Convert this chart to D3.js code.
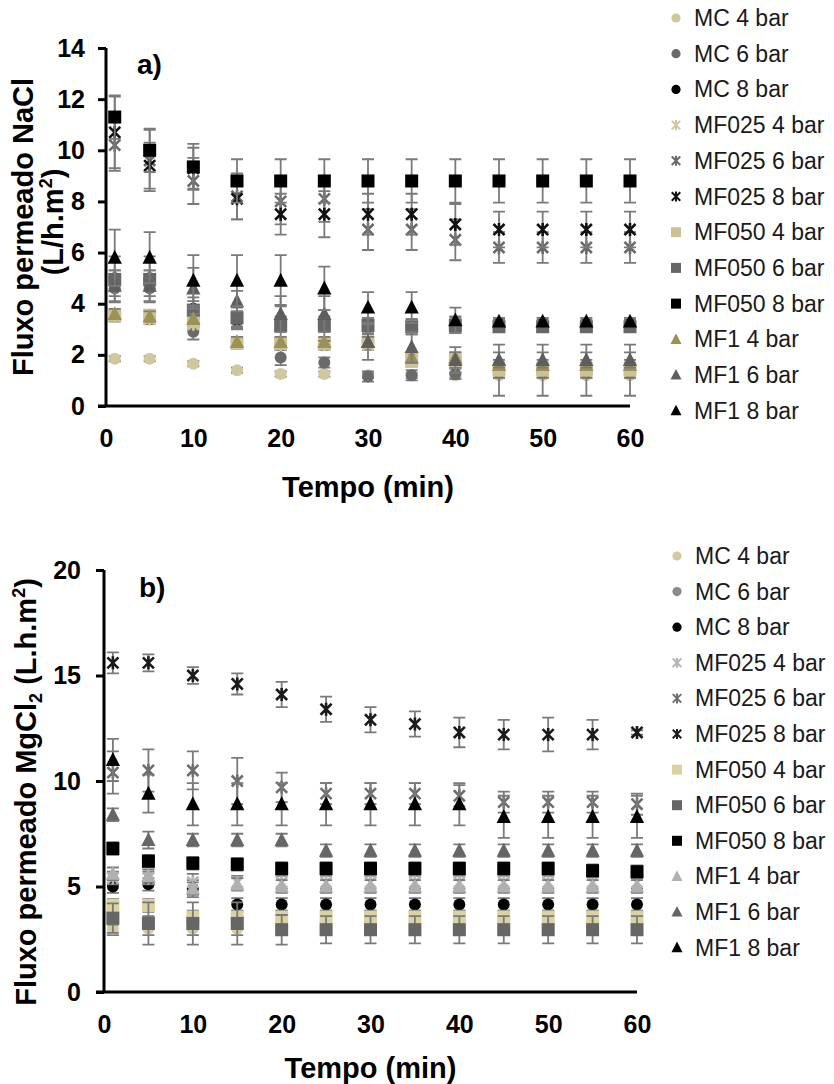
<!DOCTYPE html>
<html>
<head>
<meta charset="utf-8">
<script src="https://cdn.jsdelivr.net/npm/d3@7/dist/d3.min.js"></script>
<style>
  html, body { margin: 0; padding: 0; background: #fff; }
  svg { display: block; }
  text { font-family: "Liberation Sans", Arial, sans-serif; }
</style>
</head>
<body>
<svg id="fig" width="834" height="1084"></svg>
<script>
// Sampling times (min)
const times = [1, 5, 10, 15, 20, 25, 30, 35, 40, 45, 50, 55, 60];
const seriesLabels = ["MC 4 bar", "MC 6 bar", "MC 8 bar",
  "MF025 4 bar", "MF025 6 bar", "MF025 8 bar",
  "MF050 4 bar", "MF050 6 bar", "MF050 8 bar",
  "MF1 4 bar", "MF1 6 bar", "MF1 8 bar"];
const xTicks = [0, 10, 20, 30, 40, 50, 60];
const naclYTicks = [0, 2, 4, 6, 8, 10, 12, 14];
const mgclYTicks = [0, 5, 10, 15, 20];

// a) NaCl permeate flux (L/h.m2) and standard deviations
const naclMC4    = [1.85, 1.85, 1.65, 1.4, 1.25, 1.25, 1.2, 1.2, 1.2, 1.2, 1.2, 1.2, 1.2];
const naclMC6    = [4.6, 4.6, 2.9, 3.3, 1.9, 1.7, 1.15, 1.2, 1.25, 1.3, 1.3, 1.3, 1.3];
const naclMC8    = [5.0, 5.0, 3.8, 3.4, 3.2, 3.2, 3.1, 3.1, 3.2, 3.2, 3.2, 3.2, 3.2];
const naclMF025_4 = [3.5, 3.4, 3.2, 2.5, 2.4, 2.4, 2.4, 1.8, 1.7, 1.5, 1.5, 1.5, 1.5];
const naclMF025_6 = [10.2, 9.6, 8.8, 8.2, 8.0, 8.1, 6.9, 6.9, 6.5, 6.2, 6.2, 6.2, 6.2];
const naclMF025_8 = [10.7, 9.4, 9.3, 8.1, 7.5, 7.5, 7.5, 7.5, 7.1, 6.9, 6.9, 6.9, 6.9];
const naclMF050_4 = [3.55, 3.55, 3.3, 2.45, 2.45, 2.45, 2.5, 1.75, 1.8, 1.4, 1.4, 1.4, 1.4];
const naclMF050_6 = [4.95, 4.95, 3.75, 3.45, 3.15, 3.15, 3.15, 3.1, 3.15, 3.1, 3.1, 3.1, 3.1];
const naclMF050_8 = [11.3, 10.0, 9.35, 8.8, 8.8, 8.8, 8.8, 8.8, 8.8, 8.8, 8.8, 8.8, 8.8];
const naclMF1_4  = [3.6, 3.5, 3.4, 2.5, 2.5, 2.5, 2.5, 1.9, 1.9, 1.6, 1.6, 1.6, 1.6];
const naclMF1_6  = [4.7, 4.7, 4.6, 4.1, 3.6, 3.6, 2.5, 2.3, 1.8, 1.8, 1.8, 1.8, 1.8];
const naclMF1_8  = [5.8, 5.8, 4.9, 4.9, 4.9, 4.6, 3.85, 3.85, 3.35, 3.3, 3.3, 3.3, 3.3];

const naclErrMC4    = [0.1, 0.1, 0.1, 0.1, 0.1, 0.1, 0.1, 0.1, 0.1, 0.1, 0.1, 0.1, 0.1];
const naclErrMC6    = [0.3, 0.3, 0.3, 0.3, 0.3, 0.2, 0.2, 0.2, 0.2, 0.2, 0.2, 0.2, 0.2];
const naclErrMC8    = [0.3, 0.3, 0.3, 0.3, 0.3, 0.3, 0.3, 0.3, 0.3, 0.2, 0.2, 0.2, 0.2];
const naclErrMF025_4 = [0.2, 0.2, 0.2, 0.2, 0.2, 0.2, 0.2, 0.2, 0.2, 0.2, 0.2, 0.2, 0.2];
const naclErrMF025_6 = [1.0, 1.2, 0.9, 0.9, 0.9, 0.9, 0.8, 0.8, 0.8, 0.6, 0.6, 0.6, 0.6];
const naclErrMF025_8 = [1.4, 0.9, 0.8, 0.8, 0.8, 0.9, 0.8, 0.8, 0.8, 0.7, 0.7, 0.7, 0.7];
const naclErrMF050_4 = [0.2, 0.2, 0.2, 0.2, 0.2, 0.2, 0.2, 0.2, 0.3, 1.0, 1.0, 1.0, 1.0];
const naclErrMF050_6 = [0.9, 0.9, 0.5, 0.4, 0.8, 0.6, 0.3, 0.3, 0.3, 0.2, 0.2, 0.2, 0.2];
const naclErrMF050_8 = [0.85, 0.85, 0.9, 0.85, 0.85, 0.85, 0.85, 0.85, 0.85, 0.85, 0.85, 0.85, 0.85];
const naclErrMF1_4  = [0.2, 0.2, 0.2, 0.2, 0.2, 0.2, 0.2, 0.2, 0.2, 0.2, 0.2, 0.2, 0.2];
const naclErrMF1_6  = [0.6, 0.6, 0.8, 0.4, 0.7, 0.7, 0.7, 0.6, 0.5, 0.3, 0.3, 0.3, 0.3];
const naclErrMF1_8  = [1.1, 1.0, 1.0, 1.0, 1.0, 0.85, 0.6, 0.6, 0.5, 0.15, 0.15, 0.15, 0.15];

// b) MgCl2 permeate flux (L.h.m2) and standard deviations
const mgclMC4    = [3.0, 3.0, 3.0, 3.0, 3.0, 3.0, 3.0, 3.0, 3.0, 3.0, 3.0, 3.0, 3.0];
const mgclMC6    = [3.5, 3.3, 3.3, 3.3, 3.1, 3.1, 3.1, 3.1, 3.1, 3.1, 3.1, 3.1, 3.1];
const mgclMC8    = [5.0, 5.1, 4.9, 4.15, 4.15, 4.15, 4.15, 4.15, 4.15, 4.15, 4.15, 4.15, 4.15];
const mgclMF025_4 = [5.4, 5.4, 5.2, 5.2, 5.2, 5.2, 5.2, 5.2, 5.2, 5.2, 5.2, 5.2, 5.2];
const mgclMF025_6 = [10.4, 10.5, 10.5, 10.0, 9.7, 9.4, 9.4, 9.4, 9.3, 9.0, 9.0, 9.0, 8.9];
const mgclMF025_8 = [15.6, 15.6, 15.0, 14.6, 14.1, 13.4, 12.9, 12.7, 12.3, 12.2, 12.2, 12.2, 12.3];
const mgclMF050_4 = [4.1, 4.1, 3.55, 3.55, 3.55, 3.55, 3.55, 3.55, 3.55, 3.55, 3.55, 3.55, 3.55];
const mgclMF050_6 = [3.5, 3.25, 3.25, 3.25, 2.95, 2.95, 2.95, 2.95, 2.95, 2.95, 2.95, 2.95, 2.95];
const mgclMF050_8 = [6.8, 6.2, 6.1, 6.05, 5.85, 5.85, 5.85, 5.85, 5.85, 5.85, 5.85, 5.75, 5.7];
const mgclMF1_4  = [5.6, 5.5, 4.9, 5.1, 5.0, 5.0, 5.0, 5.0, 5.0, 5.0, 5.0, 5.0, 5.0];
const mgclMF1_6  = [8.4, 7.2, 7.2, 7.2, 7.2, 6.7, 6.7, 6.7, 6.7, 6.7, 6.7, 6.7, 6.7];
const mgclMF1_8  = [11.0, 9.4, 8.9, 8.9, 8.9, 8.9, 8.9, 8.9, 8.9, 8.3, 8.3, 8.3, 8.3];

const mgclErrMC4    = [0.3, 0.3, 0.3, 0.3, 0.3, 0.3, 0.3, 0.3, 0.3, 0.3, 0.3, 0.3, 0.3];
const mgclErrMC6    = [0.3, 0.3, 0.3, 0.3, 0.3, 0.3, 0.3, 0.3, 0.3, 0.3, 0.3, 0.3, 0.3];
const mgclErrMC8    = [0.3, 0.3, 0.4, 0.3, 0.3, 0.3, 0.3, 0.3, 0.3, 0.3, 0.3, 0.3, 0.3];
const mgclErrMF025_4 = [0.3, 0.3, 0.4, 0.3, 0.3, 0.3, 0.3, 0.3, 0.3, 0.3, 0.3, 0.3, 0.3];
const mgclErrMF025_6 = [1.0, 1.0, 0.9, 1.1, 0.7, 0.5, 0.5, 0.5, 0.5, 0.5, 0.5, 0.5, 0.5];
const mgclErrMF025_8 = [0.5, 0.4, 0.4, 0.5, 0.6, 0.6, 0.6, 0.6, 0.7, 0.7, 0.8, 0.7, 0.1];
const mgclErrMF050_4 = [0.3, 0.3, 0.3, 0.3, 0.3, 0.3, 0.3, 0.3, 0.3, 0.3, 0.3, 0.3, 0.3];
const mgclErrMF050_6 = [0.7, 1.0, 1.0, 1.0, 0.7, 0.65, 0.65, 0.65, 0.65, 0.65, 0.65, 0.65, 0.65];
const mgclErrMF050_8 = [0.3, 0.3, 0.3, 0.3, 0.3, 0.3, 0.3, 0.3, 0.3, 0.3, 0.3, 0.3, 0.3];
const mgclErrMF1_4  = [0.3, 0.3, 0.3, 0.3, 0.3, 0.3, 0.3, 0.3, 0.3, 0.3, 0.3, 0.3, 0.3];
const mgclErrMF1_6  = [0.3, 0.4, 0.3, 0.3, 0.3, 0.3, 0.3, 0.3, 0.3, 0.3, 0.3, 0.3, 0.3];
const mgclErrMF1_8  = [1.0, 0.9, 1.0, 1.0, 1.0, 1.0, 1.0, 1.0, 1.0, 1.0, 1.0, 1.0, 1.0];

const markerShapes = ["circle", "circle", "circle", "star", "star", "star",
  "square", "square", "square", "triangle", "triangle", "triangle"];
const naclColors = ["#cfc79d", "#6a6a6a", "#000000", "#cfc79d", "#6a6a6a", "#111111",
  "#cbc295", "#666666", "#000000", "#9d9256", "#5e5e5e", "#000000"];
const mgclColors = ["#d3ca9f", "#8a8a8a", "#000000", "#b5b5b5", "#6e6e6e", "#1a1a1a",
  "#dbd2a2", "#666666", "#000000", "#b0b0b0", "#666666", "#000000"];

const naclValues = [naclMC4, naclMC6, naclMC8, naclMF025_4, naclMF025_6, naclMF025_8,
  naclMF050_4, naclMF050_6, naclMF050_8, naclMF1_4, naclMF1_6, naclMF1_8];
const naclErrors = [naclErrMC4, naclErrMC6, naclErrMC8, naclErrMF025_4, naclErrMF025_6, naclErrMF025_8,
  naclErrMF050_4, naclErrMF050_6, naclErrMF050_8, naclErrMF1_4, naclErrMF1_6, naclErrMF1_8];
const mgclValues = [mgclMC4, mgclMC6, mgclMC8, mgclMF025_4, mgclMF025_6, mgclMF025_8,
  mgclMF050_4, mgclMF050_6, mgclMF050_8, mgclMF1_4, mgclMF1_6, mgclMF1_8];
const mgclErrors = [mgclErrMC4, mgclErrMC6, mgclErrMC8, mgclErrMF025_4, mgclErrMF025_6, mgclErrMF025_8,
  mgclErrMF050_4, mgclErrMF050_6, mgclErrMF050_8, mgclErrMF1_4, mgclErrMF1_6, mgclErrMF1_8];

const svg = d3.select("#fig");

// Marker drawing: circle, square, triangle and Excel-like star (X with a vertical bar)
function drawMarker(g, shape, color, size) {
  const h = size / 2;
  if (shape === "circle") {
    g.append("circle").attr("r", h * 0.92).attr("fill", color);
  } else if (shape === "square") {
    g.append("rect").attr("x", -h).attr("y", -h).attr("width", size).attr("height", size).attr("fill", color);
  } else if (shape === "triangle") {
    const s = size * 1.1;
    g.append("path")
      .attr("d", `M0,${-s * 0.55}L${s / 2},${s * 0.42}L${-s / 2},${s * 0.42}Z`)
      .attr("fill", color);
  } else {
    const a = h * 0.85;
    g.append("path")
      .attr("d", `M${-a},${-a}L${a},${a}M${-a},${a}L${a},${-a}M0,${-h}L0,${h}`)
      .attr("stroke", color).attr("stroke-width", size > 10 ? 2.6 : 2).attr("fill", "none");
  }
}

function drawPanel(cfg) {
  const x = d3.scaleLinear().domain([0, 60]).range([cfg.left, cfg.right]);
  const y = d3.scaleLinear().domain([0, cfg.yMax]).range([cfg.bottom, cfg.top]);
  const g = svg.append("g");

  // y axis with outward ticks
  const yAxis = d3.axisLeft(y).tickValues(cfg.yTicks).tickSize(8).tickPadding(cfg.yPad).tickFormat(d3.format("d"));
  const ya = g.append("g").attr("transform", `translate(${cfg.left},0)`).call(yAxis);
  ya.select(".domain").attr("d", `M0,${cfg.top}V${cfg.bottom}`).attr("stroke", "#000").attr("stroke-width", 3);
  ya.selectAll(".tick line").attr("stroke", "#000").attr("stroke-width", 3);
  ya.selectAll(".tick text").attr("font-size", cfg.tickSize).attr("font-weight", "bold")
    .attr("font-family", "Liberation Sans, Arial, sans-serif").attr("fill", "#000");

  // x axis: line only, no tick marks
  const xAxis = d3.axisBottom(x).tickValues(xTicks).tickSize(0).tickPadding(cfg.xPad).tickFormat(d3.format("d"));
  const xa = g.append("g").attr("transform", `translate(0,${cfg.bottom})`).call(xAxis);
  xa.select(".domain").attr("d", `M${cfg.left - 8},0H${cfg.right}`).attr("stroke", "#000").attr("stroke-width", 3);
  xa.selectAll(".tick text").attr("font-size", cfg.tickSize).attr("font-weight", "bold")
    .attr("font-family", "Liberation Sans, Arial, sans-serif").attr("fill", "#000");

  // series: error bars, then markers, in legend order
  cfg.values.forEach((vals, si) => {
    const sg = g.append("g");
    const errs = cfg.errors[si];
    times.forEach((t, i) => {
      const cx = x(t), lo = y(vals[i] - errs[i]), hi = y(vals[i] + errs[i]);
      sg.append("path")
        .attr("d", `M${cx},${lo}V${hi}M${cx - 6},${lo}H${cx + 6}M${cx - 6},${hi}H${cx + 6}`)
        .attr("stroke", "#7a7a7a").attr("stroke-width", 1.8).attr("fill", "none");
    });
    times.forEach((t, i) => {
      const m = sg.append("g").attr("transform", `translate(${x(t)},${y(vals[i])})`);
      drawMarker(m, markerShapes[si], cfg.colors[si], 13);
    });
  });

  // panel letter
  g.append("text").attr("x", cfg.letterX).attr("y", cfg.letterY).text(cfg.letter)
    .attr("font-size", 28).attr("font-weight", "bold");

  // axis titles
  g.append("text").attr("x", (cfg.left + cfg.right) / 2).attr("y", cfg.xTitleY)
    .attr("text-anchor", "middle").attr("font-size", 29).attr("font-weight", "bold").text("Tempo (min)");
  cfg.yTitle(g);

  // legend
  const lg = g.append("g");
  seriesLabels.forEach((name, si) => {
    const ly = cfg.legendTop + si * cfg.legendStep;
    const m = lg.append("g").attr("transform", `translate(${cfg.legendX},${ly})`);
    drawMarker(m, markerShapes[si], cfg.colors[si], 10);
    lg.append("text").attr("x", cfg.legendX + 18).attr("y", ly + 8)
      .attr("font-size", 23).attr("fill", "#1a1a1a").text(name);
  });
}

drawPanel({
  left: 106, right: 630, top: 48, bottom: 406, yMax: 14, yTicks: naclYTicks,
  yPad: 13, xPad: 23, tickSize: 25,
  values: naclValues, errors: naclErrors, colors: naclColors,
  letter: "a)", letterX: 137, letterY: 74, xTitleY: 497,
  legendX: 676, legendTop: 18, legendStep: 35.7,
  yTitle: g => {
    const t = g.append("text").attr("transform", "translate(33,227) rotate(-90)")
      .attr("text-anchor", "middle").attr("font-size", 29).attr("font-weight", "bold");
    t.text("Fluxo permeado NaCl");
    const t2 = g.append("text").attr("transform", "translate(63,222) rotate(-90)")
      .attr("text-anchor", "middle").attr("font-size", 29).attr("font-weight", "bold");
    t2.append("tspan").text("(L/h.m");
    t2.append("tspan").attr("font-size", 18).attr("dy", -11).text("2");
    t2.append("tspan").attr("dy", 11).text(")");
  }
});

drawPanel({
  left: 104, right: 637, top: 570, bottom: 992, yMax: 20, yTicks: mgclYTicks,
  yPad: 15, xPad: 23, tickSize: 25,
  values: mgclValues, errors: mgclErrors, colors: mgclColors,
  letter: "b)", letterX: 139, letterY: 597, xTitleY: 1078,
  legendX: 677, legendTop: 556, legendStep: 35.6,
  yTitle: g => {
    const t = g.append("text").attr("transform", "translate(36,792) rotate(-90)")
      .attr("text-anchor", "middle").attr("font-size", 29).attr("font-weight", "bold");
    t.append("tspan").text("Fluxo permeado MgCl");
    t.append("tspan").attr("font-size", 18).attr("dy", 6).text("2");
    t.append("tspan").attr("dy", -6).text(" (L.h.m");
    t.append("tspan").attr("font-size", 18).attr("dy", -11).text("2");
    t.append("tspan").attr("dy", 11).text(")");
  }
});
</script>
</body>
</html>
